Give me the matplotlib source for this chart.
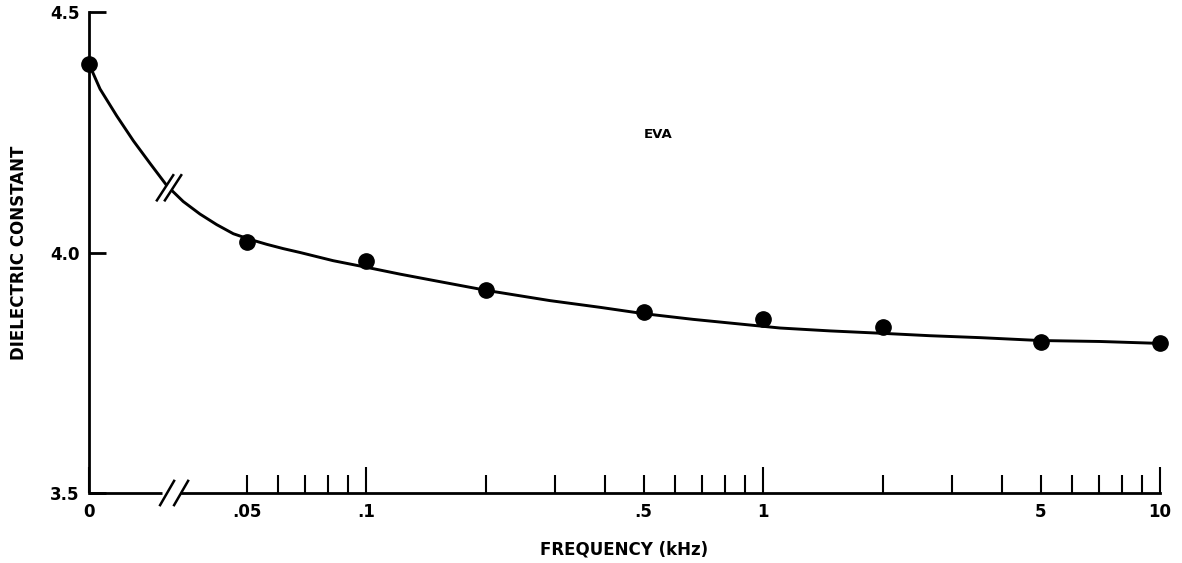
import numpy as np
import matplotlib.pyplot as plt
from matplotlib.lines import Line2D
from matplotlib.patches import Polygon
from matplotlib.ticker import FixedLocator, FuncFormatter
from matplotlib.transforms import IdentityTransform

# measured points (frequency in kHz, dielectric constant)
freq = [0, 0.05, 0.1, 0.2, 0.5, 1, 2, 5, 10]
eps = [4.392, 4.021, 3.983, 3.923, 3.876, 3.861, 3.846, 3.813, 3.811]

# hand drawn curve
curve_f = [0, 0.0035, 0.0088, 0.0141, 0.0194, 0.0247, 0.0299, 0.0352, 0.0405,
           0.0458, 0.0511, 0.0562, 0.0619, 0.0682, 0.0826, 0.1006, 0.1218,
           0.1476, 0.2018, 0.2904, 0.3886, 0.499, 0.6664, 1.104, 1.475,
           1.995, 2.634, 3.52, 4.986, 7.06, 10]
curve_eps = [4.392, 4.340, 4.284, 4.232, 4.185, 4.139, 4.106, 4.080, 4.058,
             4.039, 4.027, 4.017, 4.008, 4.000, 3.983, 3.969, 3.955,
             3.942, 3.921, 3.900, 3.886, 3.873, 3.861, 3.843, 3.837,
             3.832, 3.827, 3.823, 3.817, 3.815, 3.811]

major_ticks = [0, 0.1, 1, 10]
major_labels = ['0', '.1', '1', '10']
minor_ticks = [0.05, 0.06, 0.07, 0.08, 0.09,
               0.2, 0.3, 0.4, 0.5, 0.6, 0.7, 0.8, 0.9,
               2, 3, 4, 5, 6, 7, 8, 9]
minor_labels = {0.05: '.05', 0.5: '.5', 5: '5'}
y_ticks = [3.5, 4.0, 4.5]
y_labels = ['3.5', '4.0', '4.5']

# broken axis: linear piece from 0 to .05, log above
F0 = 0.05
P0 = -1.698
PF = np.log10(F0)


def fwd(f):
    f = np.asarray(f, dtype=float)
    lin = P0 + f / F0 * (PF - P0)
    lg = np.log10(np.where(f > F0, f, F0))
    return np.where(f <= F0, lin, lg)


def inv(p):
    p = np.asarray(p, dtype=float)
    lin = (p - P0) / (PF - P0) * F0
    lg = 10 ** np.where(p > PF, p, PF)
    return np.where(p <= PF, lin, lg)


plt.rcParams['font.family'] = ['DejaVu Sans']
plt.rcParams['font.weight'] = 'bold'
plt.rcParams['axes.labelweight'] = 'bold'

fig = plt.figure(figsize=(11.82, 5.63), dpi=100)
ax = fig.add_axes([89 / 1182, 1 - 493 / 563, (1160 - 89) / 1182, (493 - 12) / 563])
ax.set_xscale('function', functions=(fwd, inv))
ax.set_xlim(0, 10)
ax.set_ylim(3.5, 4.5)

ax.plot(curve_f, curve_eps, color='black', lw=2.1, solid_capstyle='round',
        solid_joinstyle='round', zorder=3)
ax.plot(freq, eps, 'o', color='black', ms=11, zorder=4, clip_on=False)

ax.text(0.544, 4.245, 'EVA', fontsize=9.5, ha='center', va='center')

for s in ['top', 'right']:
    ax.spines[s].set_visible(False)
ax.spines['left'].set_linewidth(2.0)
ax.spines['bottom'].set_linewidth(2.0)
ax.spines['left'].set_bounds(3.5, 4.5)
ax.spines['bottom'].set_bounds(0.0295, 10)
# left piece of the broken axis
ax.plot([0, 0.0232], [3.5, 3.5], color='black', lw=2.0, clip_on=False,
        solid_capstyle='butt')

ax.xaxis.set_major_locator(FixedLocator(major_ticks))
ax.xaxis.set_major_formatter(FuncFormatter(lambda v, i: major_labels[i]))
ax.xaxis.set_minor_locator(FixedLocator(minor_ticks))
ax.xaxis.set_minor_formatter(FuncFormatter(
    lambda v, i: next((t for k, t in minor_labels.items() if abs(k - v) < 1e-9), '')))
ax.tick_params(axis='x', which='major', direction='in', length=19, width=1.5,
               pad=7, labelsize=12)
ax.tick_params(axis='x', which='minor', direction='in', length=13, width=1.5,
               pad=7, labelsize=12)

ax.set_yticks(y_ticks)
ax.set_yticklabels(y_labels)
ax.tick_params(axis='y', direction='in', length=12, width=2.0, pad=7, labelsize=12)

ax.set_xlabel('FREQUENCY (kHz)', fontsize=12, labelpad=14)
ax.set_ylabel('DIELECTRIC CONSTANT', fontsize=12, labelpad=16)


def break_mark(xd, yd, dx, half, ang):
    # two parallel slashes with a white gap, drawn in pixels around a data point
    cx, cy = ax.transData.transform((xd, yd))
    ux, uy = np.cos(np.radians(ang)) * half, np.sin(np.radians(ang)) * half
    gap = Polygon([(cx - dx / 2 - ux, cy - uy), (cx - dx / 2 + ux, cy + uy),
                   (cx + dx / 2 + ux, cy + uy), (cx + dx / 2 - ux, cy - uy)],
                  closed=True, facecolor='white', edgecolor='none',
                  transform=IdentityTransform(), zorder=5)
    fig.add_artist(gap)
    for sx in (-dx / 2, dx / 2):
        fig.add_artist(Line2D([cx + sx - ux, cx + sx + ux], [cy - uy, cy + uy],
                              color='black', lw=1.8, transform=IdentityTransform(),
                              zorder=6))


break_mark(0.0254, np.interp(0.0254, curve_f, curve_eps), 8, 15, 57)
break_mark(0.0270, 3.5, 14, 14, 60)

fig.savefig('out.png', dpi=100)
